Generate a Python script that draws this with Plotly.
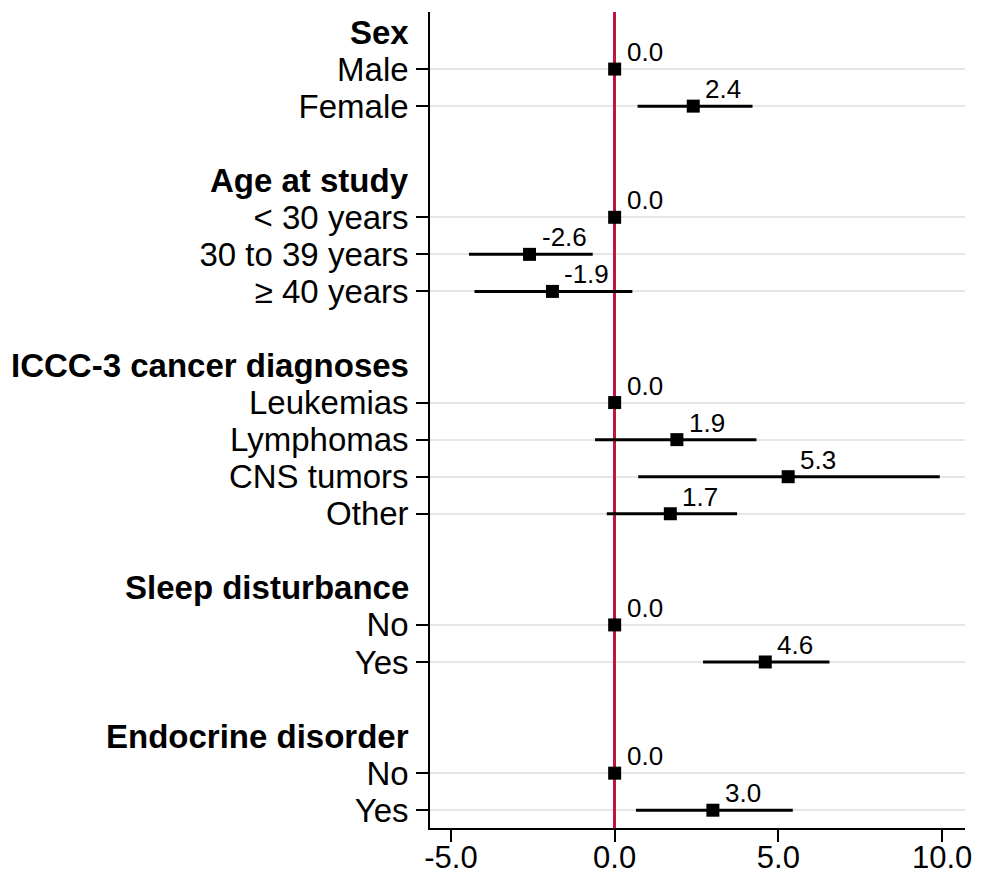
import plotly.graph_objects as go

# ---- data ----
groups = ["Sex", "Age at study", "ICCC-3 cancer diagnoses", "Sleep disturbance", "Endocrine disorder"]
categories = [
    ["Male", "Female"],
    ["< 30 years", "30 to 39 years", "≥ 40 years"],
    ["Leukemias", "Lymphomas", "CNS tumors", "Other"],
    ["No", "Yes"],
    ["No", "Yes"],
]
estimates = [
    [0.0, 2.4],
    [0.0, -2.6, -1.9],
    [0.0, 1.9, 5.3, 1.7],
    [0.0, 4.6],
    [0.0, 3.0],
]
ci_low = [
    [0.0, 0.70],
    [0.0, -4.45, -4.28],
    [0.0, -0.60, 0.72, -0.24],
    [0.0, 2.70],
    [0.0, 0.65],
]
ci_high = [
    [0.0, 4.21],
    [0.0, -0.67, 0.54],
    [0.0, 4.33, 9.93, 3.74],
    [0.0, 6.56],
    [0.0, 5.44],
]
x_ticks = [-5.0, 0.0, 5.0, 10.0]
x_ticktext = ["-5.0", "0.0", "5.0", "10.0"]

# ---- build rows ----
FONT = "Liberation Sans, Arial, Helvetica, sans-serif"
header_rows, header_text = [], []
cat_rows, cat_text, est, lo, hi = [], [], [], [], []
row = 0
for g, cats, es, ls, hs in zip(groups, categories, estimates, ci_low, ci_high):
    header_rows.append(row)
    header_text.append(g)
    row += 1
    for c, e, l, h in zip(cats, es, ls, hs):
        cat_rows.append(row)
        cat_text.append(c)
        est.append(e)
        lo.append(l)
        hi.append(h)
        row += 1
    row += 1  # blank spacer
last_row = row - 2

fig = go.Figure()
fig.add_trace(go.Scatter(
    x=est, y=cat_rows, mode="markers",
    marker=dict(symbol="square", size=13, color="black"),
    error_x=dict(type="data", symmetric=False,
                 array=[h - e for h, e in zip(hi, est)],
                 arrayminus=[e - l for e, l in zip(est, lo)],
                 color="black", thickness=3, width=0),
    showlegend=False, hoverinfo="skip",
))

annotations = []
for r, t in zip(header_rows, header_text):
    annotations.append(dict(
        x=0, xref="paper", y=r, yref="y", text=f"<b>{t}</b>",
        xanchor="right", yanchor="middle", showarrow=False, xshift=-19,
        font=dict(family=FONT, size=33, color="black"),
    ))
for r, e in zip(cat_rows, est):
    annotations.append(dict(
        x=e, y=r, xref="x", yref="y", text=f"{e:.1f}",
        xanchor="left", yanchor="bottom", showarrow=False,
        xshift=10, yshift=0,
        font=dict(family=FONT, size=26, color="black"),
    ))

# page body has an 8px default margin; the figure is sized to compensate
fig.update_layout(
    width=979, height=867,
    margin=dict(l=422, r=22, t=4, b=47),
    paper_bgcolor="white", plot_bgcolor="white",
    font=dict(family=FONT, size=33, color="black"),
    annotations=annotations,
    xaxis=dict(
        range=[-5.64, 10.7], tickvals=x_ticks, ticktext=x_ticktext,
        showgrid=False, zeroline=True, zerolinecolor="#C0143C", zerolinewidth=2.5,
        showline=True, linecolor="black", linewidth=1.6,
        ticks="outside", ticklen=12, tickwidth=1.6, tickcolor="black",
        tickfont=dict(family=FONT, size=31, color="black"),
        ticklabelstandoff=-11,
        automargin=False,
    ),
    yaxis=dict(
        range=[last_row + 0.48, -0.54], tickvals=cat_rows, ticktext=cat_text,
        showgrid=True, gridcolor="#E6E6E6", gridwidth=1.5,
        zeroline=False,
        showline=True, linecolor="black", linewidth=1.6,
        ticks="outside", ticklen=12, tickwidth=1.6, tickcolor="black",
        tickfont=dict(family=FONT, size=33, color="black"),
        ticklabelstandoff=1,
        automargin=False,
    ),
)

fig.write_html("out.html")
